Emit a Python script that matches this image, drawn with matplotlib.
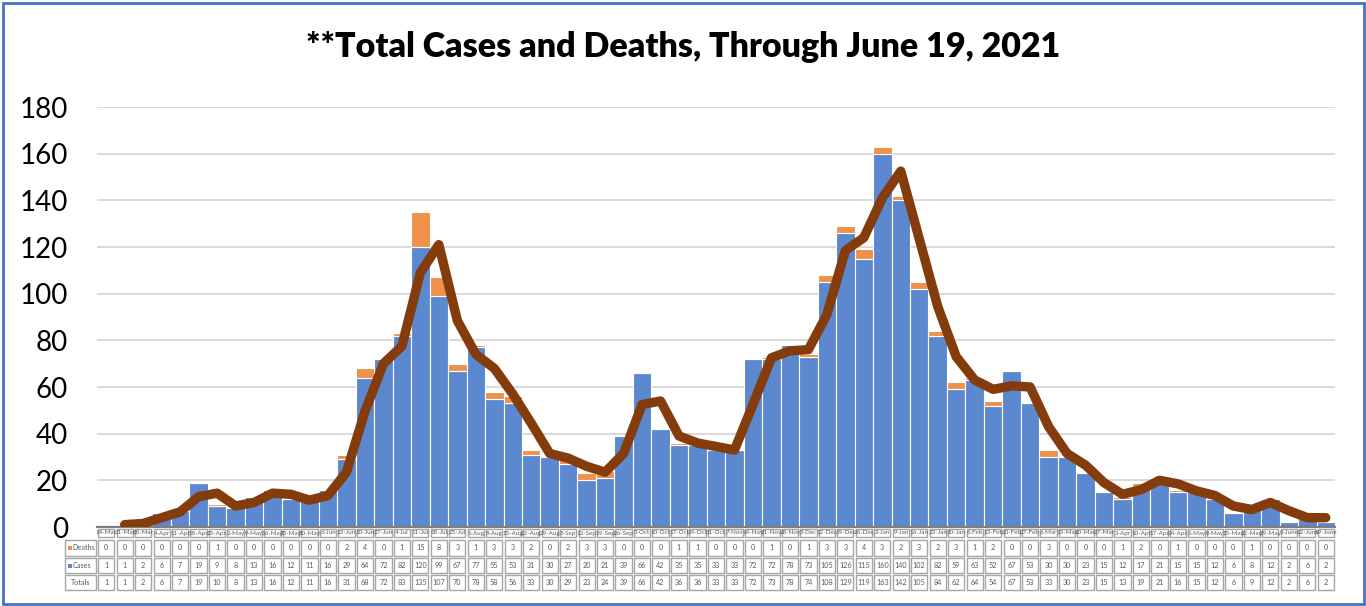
import numpy as np
import matplotlib
matplotlib.use("Agg")
import matplotlib.pyplot as plt
from matplotlib.patches import Rectangle

plt.rcParams["font.family"] = ["Lato", "DejaVu Sans"]

# weekly data
weeks = ["14-Mar", "21-Mar", "28-Mar", "4-Apr", "11-Apr", "18-Apr", "25-Apr",
         "2-May", "9-May", "16-May", "23-May", "30-May", "6-Jun", "13-Jun",
         "20-Jun", "27-Jun", "4-Jul", "11-Jul", "18-Jul", "25-Jul", "1-Aug",
         "8-Aug", "15-Aug", "22-Aug", "29-Aug", "5-Sep", "12-Sep", "19-Sep",
         "26-Sep", "3-Oct", "10-Oct", "17-Oct", "24-Oct", "31-Oct", "7-Nov",
         "14-Nov", "21-Nov", "28-Nov", "5-Dec", "12-Dec", "19-Dec", "26-Dec",
         "2-Jan", "9-Jan", "16-Jan", "23-Jan", "30-Jan", "6-Feb", "13-Feb",
         "20-Feb", "27-Feb", "6-Mar", "13-Mar", "20-Mar", "27-Mar", "3-Apr",
         "10-Apr", "17-Apr", "24-Apr", "1-May", "8-May", "15-May", "22-May",
         "29-May", "5-June", "12-June", "19-June"]
deaths = [0, 0, 0, 0, 0, 0, 1, 0, 0, 0, 0, 0, 0, 2, 4, 0, 1, 15, 8, 3, 1, 3,
          3, 2, 0, 2, 3, 3, 0, 0, 0, 1, 1, 0, 0, 0, 1, 0, 1, 3, 3, 4, 3, 2, 3,
          2, 3, 1, 2, 0, 0, 3, 0, 0, 0, 1, 2, 0, 1, 0, 0, 0, 1, 0, 0, 0, 0]
cases = [1, 1, 2, 6, 7, 19, 9, 8, 13, 16, 12, 11, 16, 29, 64, 72, 82, 120, 99,
         67, 77, 55, 53, 31, 30, 27, 20, 21, 39, 66, 42, 35, 35, 33, 33, 72,
         72, 78, 73, 105, 126, 115, 160, 140, 102, 82, 59, 63, 52, 67, 53, 30,
         30, 23, 15, 12, 17, 21, 15, 15, 12, 6, 8, 12, 2, 6, 2]
totals = [1, 1, 2, 6, 7, 19, 10, 8, 13, 16, 12, 11, 16, 31, 68, 72, 83, 135,
          107, 70, 78, 58, 56, 33, 30, 29, 23, 24, 39, 66, 42, 36, 36, 33, 33,
          72, 73, 78, 74, 108, 129, 119, 163, 142, 105, 84, 62, 64, 54, 67, 53,
          33, 30, 23, 15, 13, 19, 21, 16, 15, 12, 6, 9, 12, 2, 6, 2]
# brown trend line (2-week moving average), starts at the 2nd week
trend = [1, 1.5, 4, 6.5, 13, 14.5, 9, 10.5, 14.5, 14, 11.5, 13.5, 23.5, 49.5,
         70, 77.5, 109, 121, 88.5, 74, 68, 57, 44.5, 31.5, 29.5, 26, 23.5,
         31.5, 52.5, 54, 39, 36, 34.5, 33, 52.5, 72.5, 75.5, 76, 91, 118.5,
         124, 141, 152.5, 123.5, 94.5, 73, 63, 59, 60.5, 60, 43, 31.5, 26.5,
         19, 14, 16, 20, 18.5, 15.5, 13.5, 9, 7.5, 10.5, 7, 4, 4]

row_names = ["Deaths", "Cases", "Totals"]
row_values = [deaths, cases, totals]

BLUE = "#5B88CF"
ORANGE = "#F0914B"
BROWN = "#843C0C"
GREY_TXT = "#595959"
CELL_EDGE = "#A6A6A6"

W, H = 1366, 606
fig = plt.figure(figsize=(W / 100, H / 100), dpi=100)


def px(x0, y0, x1, y1):
    # pixel box, origin top-left -> figure rect
    return [x0 / W, 1 - y1 / H, (x1 - x0) / W, (y1 - y0) / H]


x = np.arange(len(weeks))

ax = fig.add_axes(px(97, 107, 1335, 527))
ax.bar(x, cases, width=1.0, color=BLUE, edgecolor="white", linewidth=0.8,
       zorder=2)
ax.bar(x, deaths, width=1.0, bottom=cases, color=ORANGE, edgecolor="white",
       linewidth=0.8, zorder=2)
ax.plot(x[1:], trend, color=BROWN, lw=6.8, solid_capstyle="round",
        solid_joinstyle="round", zorder=3)

ax.set_xlim(-0.5, len(weeks) - 0.5)
ax.set_ylim(0, 180)
ax.set_yticks(range(0, 181, 20))
ax.tick_params(axis="y", length=0, labelsize=20, pad=21)
ax.set_xticks([])
ax.grid(axis="y", color="#D9D9D9", lw=1.4, zorder=0)
ax.set_axisbelow(True)
for s in ["top", "right", "left"]:
    ax.spines[s].set_visible(False)
ax.spines["bottom"].set_color("#7F7F7F")
ax.spines["bottom"].set_linewidth(1.6)

# data table under the chart, y in pixels from its top edge
tax = fig.add_axes(px(97, 527, 1335, 591))
tax.set_xlim(ax.get_xlim())
tax.set_ylim(64, 0)
tax.axis("off")

rows = [(1, 11), (12, 30), (30, 47), (47, 64)]
dx = 0.06


def cell(x0, x1, y0, y1):
    r = Rectangle((x0 + dx, y0 + 0.8), x1 - x0 - 2 * dx, y1 - y0 - 1.6,
                  facecolor="white", edgecolor=CELL_EDGE, lw=1.0,
                  clip_on=False)
    tax.add_patch(r)
    return r


for i, wk in enumerate(weeks):
    y0, y1 = rows[0]
    r = cell(i - 0.5, i + 0.5, y0, y1)
    t = tax.text(i, (y0 + y1) / 2, wk, ha="center", va="center", fontsize=4.5,
                 color=GREY_TXT)
    t.set_clip_path(r)
    for (y0, y1), vals in zip(rows[1:], row_values):
        cell(i - 0.5, i + 0.5, y0, y1)
        tax.text(i, (y0 + y1) / 2, str(vals[i]), ha="center", va="center",
                 fontsize=5.2, color=GREY_TXT)

# row labels with legend keys
lab_x0 = -0.5 - 33 / 18.48
for (y0, y1), name, key in zip(rows[1:], row_names, [ORANGE, BLUE, None]):
    cell(lab_x0, -0.5, y0, y1)
    yc = (y0 + y1) / 2
    if key is not None:
        tax.add_patch(Rectangle((lab_x0 + 0.22, yc - 2), 0.2, 4, facecolor=key,
                                edgecolor="none", clip_on=False))
        tax.text(lab_x0 + 0.45, yc, name, ha="left", va="center",
                 fontsize=5.2, color=GREY_TXT)
    else:
        tax.text((lab_x0 - 0.5) / 2, yc, name, ha="center", va="center",
                 fontsize=5.2, color=GREY_TXT)

fig.text(0.5, 1 - 47 / H, "**Total Cases and Deaths, Through June 19, 2021",
         ha="center", va="center", fontsize=24.5, fontweight="heavy")

fig.patches.append(Rectangle((3 / W, 2 / H), 1361 / W, 601 / H,
                             transform=fig.transFigure, fill=False,
                             edgecolor="#4472C4", lw=2))

fig.savefig("out.png", dpi=100)
